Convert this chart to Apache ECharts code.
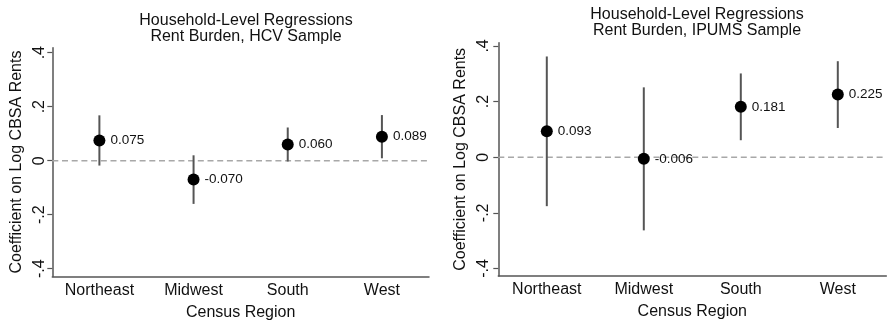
<!DOCTYPE html>
<html>
<head>
<meta charset="utf-8">
<script src="https://cdn.jsdelivr.net/npm/echarts@6/dist/echarts.min.js"></script>
<style>
  html, body { margin: 0; padding: 0; background: #fff; }
  #chart { width: 888px; height: 326px; }
</style>
</head>
<body>
<div id="chart"></div>
<script>
const regions = ['Northeast', 'Midwest', 'South', 'West'];
const yTicks = [-0.4, -0.2, 0, 0.2, 0.4];

const hcvCoef = [0.075, -0.070, 0.060, 0.089];
const hcvLow = [-0.018, -0.160, -0.003, 0.009];
const hcvHigh = [0.168, 0.020, 0.123, 0.169];

const ipumsCoef = [0.093, -0.006, 0.181, 0.225];
const ipumsLow = [-0.176, -0.263, 0.061, 0.105];
const ipumsHigh = [0.362, 0.251, 0.301, 0.345];

const FONT = '"Liberation Sans", Arial, Helvetica, sans-serif';
const AXIS = '#555';

function tickLabel(v) {
  if (Math.abs(v) < 1e-9) return '0';
  return (v < 0 ? '-' : '') + String(Math.abs(v).toFixed(1)).replace(/^0/, '');
}

function xAxis(gridIndex) {
  return {
    type: 'category',
    gridIndex,
    data: regions,
    boundaryGap: true,
    name: 'Census Region',
    nameLocation: 'middle',
    nameGap: 28,
    nameTextStyle: { color: '#111', fontSize: 16, fontFamily: FONT },
    axisLine: { onZero: false, lineStyle: { color: AXIS, width: 1.5 } },
    axisTick: { alignWithLabel: true, length: 5, lineStyle: { color: AXIS, width: 1.2 } },
    axisLabel: { color: '#111', fontSize: 16, fontFamily: FONT, margin: 6 },
    splitLine: { show: false },
  };
}

function yAxis(gridIndex, min, max, labelMargin, nameGap) {
  return {
    type: 'value',
    gridIndex,
    min,
    max,
    name: 'Coefficient on Log CBSA Rents',
    nameLocation: 'middle',
    nameGap,
    nameTextStyle: { color: '#111', fontSize: 16, fontFamily: FONT },
    axisLine: { show: true, onZero: false, lineStyle: { color: AXIS, width: 1.5 } },
    axisTick: { show: true, length: 5, customValues: yTicks, lineStyle: { color: AXIS, width: 1.2 } },
    axisLabel: {
      customValues: yTicks,
      rotate: 90,
      margin: labelMargin,
      color: '#111',
      fontSize: 16,
      fontFamily: FONT,
      formatter: tickLabel,
    },
    splitLine: { show: false },
  };
}

function errorBars(axisIndex, low, high) {
  return {
    type: 'custom',
    xAxisIndex: axisIndex,
    yAxisIndex: axisIndex,
    silent: true,
    z: 2,
    data: regions.map((r, i) => [i, low[i], high[i]]),
    encode: { x: 0, y: [1, 2] },
    renderItem: (params, api) => {
      const x = api.value(0);
      const lo = api.coord([x, api.value(1)]);
      const hi = api.coord([x, api.value(2)]);
      return {
        type: 'line',
        shape: { x1: lo[0], y1: lo[1], x2: hi[0], y2: hi[1] },
        style: { stroke: '#555', lineWidth: 2 },
      };
    },
  };
}

// dashed reference line at zero, drawn across the whole plot width
function zeroLine(axisIndex) {
  return {
    type: 'custom',
    xAxisIndex: axisIndex,
    yAxisIndex: axisIndex,
    silent: true,
    z: 1,
    data: [[0, 0]],
    renderItem: (params, api) => {
      const p = api.coord([0, 0]);
      return {
        type: 'line',
        shape: { x1: params.coordSys.x, y1: p[1], x2: params.coordSys.x + params.coordSys.width, y2: p[1] },
        style: { stroke: '#a8a8a8', lineWidth: 1.5, lineDash: [6, 3.7] },
      };
    },
  };
}

function points(axisIndex, coef) {
  return {
    type: 'scatter',
    xAxisIndex: axisIndex,
    yAxisIndex: axisIndex,
    z: 3,
    data: coef,
    symbol: 'circle',
    symbolSize: 12,
    itemStyle: { color: '#000', opacity: 1 },
    label: {
      show: true,
      position: 'right',
      distance: 5,
      color: '#111',
      fontSize: 13.5,
      fontFamily: FONT,
      formatter: (p) => p.value.toFixed(3),
    },
  };
}

const chart = echarts.init(document.getElementById('chart'));
chart.setOption({
  animation: false,
  backgroundColor: '#fff',
  title: [
    {
      text: 'Household-Level Regressions\nRent Burden, HCV Sample',
      left: 241,
      top: 8,
      textAlign: 'center',
      textStyle: { color: '#111', fontSize: 16, fontWeight: 'normal', fontFamily: FONT, lineHeight: 16 },
    },
    {
      text: 'Household-Level Regressions\nRent Burden, IPUMS Sample',
      left: 692,
      top: 1,
      textAlign: 'center',
      textStyle: { color: '#111', fontSize: 16, fontWeight: 'normal', fontFamily: FONT, lineHeight: 16.6 },
    },
  ],
  grid: [
    { left: 52.3, width: 376.7, top: 47.7, height: 228.7 },
    { left: 498.3, width: 388, top: 42.7, height: 233.3 },
  ],
  xAxis: [xAxis(0), xAxis(1)],
  yAxis: [yAxis(0, -0.4285, 0.4185, 5, 28), yAxis(1, -0.427, 0.4115, 7, 30)],
  series: [
    zeroLine(0),
    errorBars(0, hcvLow, hcvHigh),
    points(0, hcvCoef),
    zeroLine(1),
    errorBars(1, ipumsLow, ipumsHigh),
    points(1, ipumsCoef),
  ],
});
</script>
</body>
</html>
